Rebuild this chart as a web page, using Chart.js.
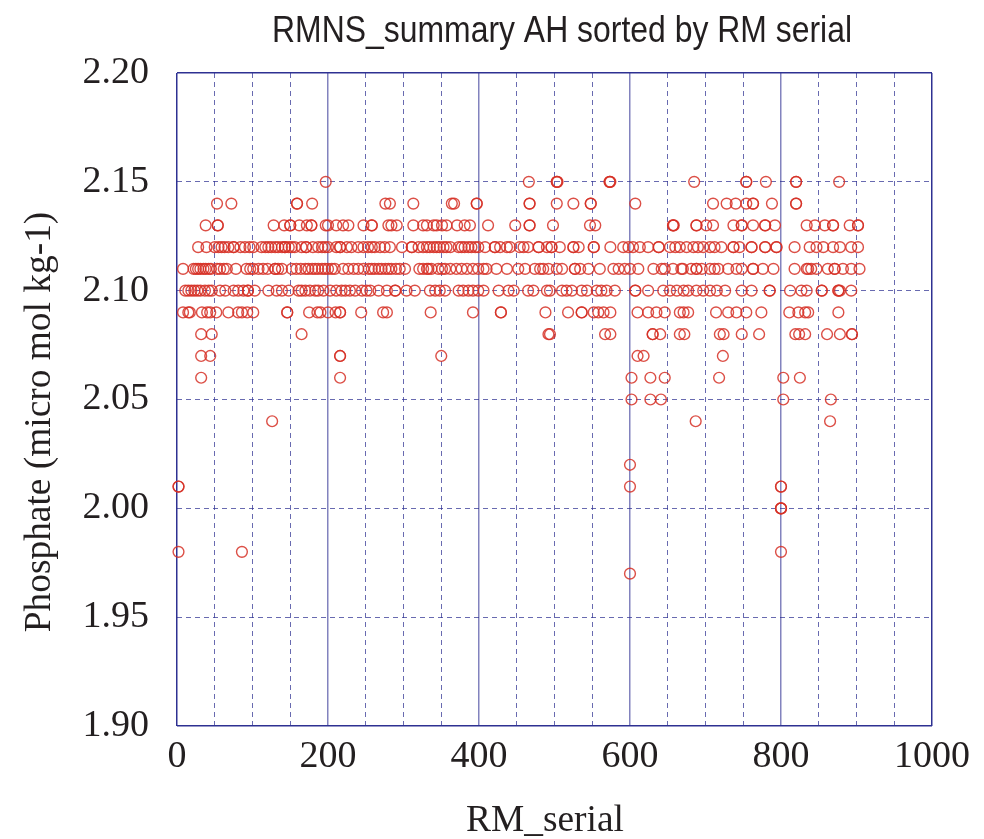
<!DOCTYPE html>
<html lang="en">
<head>
    <meta charset="UTF-8">
    <title>RMNS_summary AH sorted by RM serial</title>
    <script src="https://cdn.jsdelivr.net/npm/chart.js"></script>
    <style>
        body { margin: 0; background: #fff; }
        canvas { display: block; }
    </style>
</head>
<body>
    <canvas id="rm-chart" width="984" height="839"></canvas>

    <script>
        // RM serial numbers, one list per phosphate level
        const levels = [2.15, 2.14, 2.13, 2.12, 2.11, 2.10, 2.09, 2.08, 2.07, 2.06, 2.05, 2.04, 2.02, 2.01, 2.00, 1.98, 1.97];
        const serials215 = [197, 466, 503, 503, 504, 573, 573, 574, 685, 754, 754, 780, 820, 820, 877];
        const serials214 = [53, 72, 159, 159, 179, 276, 282, 313, 364, 367, 397, 397, 467, 467, 503, 525, 548, 548, 607, 710, 728, 740, 754, 763, 763, 788, 820, 820];
        const serials213 = [38, 54, 54, 128, 142, 150, 150, 162, 172, 178, 178, 197, 200, 211, 220, 227, 247, 258, 258, 280, 284, 291, 313, 326, 331, 340, 344, 351, 357, 371, 381, 388, 412, 448, 467, 467, 498, 547, 554, 657, 657, 658, 688, 688, 701, 710, 737, 748, 748, 763, 779, 779, 792, 834, 845, 858, 869, 869, 891, 902, 902];
        const serials212 = [28, 39, 50, 55, 59, 63, 68, 75, 75, 84, 90, 96, 101, 112, 117, 121, 125, 130, 134, 139, 143, 143, 148, 152, 156, 165, 171, 171, 180, 187, 192, 196, 200, 211, 216, 216, 225, 231, 240, 247, 253, 258, 262, 269, 275, 282, 298, 311, 311, 320, 326, 331, 335, 340, 344, 348, 353, 357, 362, 373, 377, 381, 386, 390, 395, 399, 408, 421, 421, 428, 437, 441, 454, 459, 465, 479, 479, 490, 496, 496, 507, 525, 525, 532, 552, 552, 574, 591, 598, 604, 613, 624, 638, 638, 653, 660, 666, 675, 684, 690, 697, 706, 712, 721, 737, 737, 745, 761, 761, 779, 779, 794, 794, 818, 838, 847, 856, 869, 878, 893, 902];
        const serials211 = [8, 22, 25, 28, 31, 35, 38, 42, 45, 53, 57, 62, 66, 78, 92, 97, 101, 108, 114, 120, 130, 130, 134, 139, 152, 158, 164, 170, 174, 179, 183, 187, 192, 196, 200, 205, 209, 220, 227, 234, 240, 247, 254, 258, 262, 267, 271, 276, 280, 284, 290, 295, 302, 321, 326, 331, 333, 337, 346, 351, 355, 362, 370, 377, 384, 392, 399, 406, 410, 423, 437, 452, 461, 474, 481, 485, 492, 503, 510, 527, 527, 534, 545, 560, 578, 585, 593, 600, 611, 631, 642, 646, 657, 668, 670, 681, 688, 688, 695, 706, 712, 717, 730, 741, 748, 763, 763, 776, 790, 818, 834, 836, 840, 847, 862, 871, 871, 882, 893, 904];
        const serials210 = [11, 15, 19, 23, 27, 31, 37, 42, 46, 57, 64, 75, 81, 88, 94, 94, 103, 121, 132, 139, 148, 161, 165, 170, 176, 183, 187, 194, 203, 211, 218, 223, 229, 236, 245, 251, 256, 267, 278, 289, 289, 304, 315, 335, 342, 348, 355, 373, 379, 386, 392, 399, 406, 426, 439, 446, 465, 472, 490, 494, 510, 516, 523, 536, 543, 556, 562, 569, 580, 607, 607, 624, 644, 653, 662, 671, 677, 688, 697, 706, 715, 726, 748, 761, 785, 785, 812, 827, 834, 854, 854, 876, 876, 878, 893];
        const serials209 = [8, 15, 17, 33, 40, 44, 52, 68, 81, 86, 93, 101, 146, 146, 175, 186, 190, 200, 210, 216, 216, 244, 273, 278, 336, 392, 429, 429, 488, 518, 536, 536, 552, 558, 565, 574, 610, 624, 635, 646, 666, 671, 677, 714, 730, 741, 754, 774, 811, 823, 832, 836, 876];
        const serials208 = [32, 46, 165, 492, 494, 567, 574, 630, 630, 640, 666, 672, 719, 724, 748, 771, 819, 824, 832, 861, 878, 894, 894];
        const serials207 = [32, 44, 216, 216, 350, 610, 618, 723];
        const serials206 = [32, 216, 602, 627, 646, 718, 803, 825];
        const serials205 = [602, 627, 641, 803, 866];
        const serials204 = [126, 687, 865];
        const serials202 = [600];
        const serials201 = [2, 2, 600, 800, 800];
        const serials200 = [800, 800, 800];
        const serials198 = [2, 86, 800];
        const serials197 = [600];

        const allSerials = [serials215, serials214, serials213, serials212, serials211, serials210, serials209, serials208, serials207, serials206, serials205, serials204, serials202, serials201, serials200, serials198, serials197];

        const points = [];
        levels.forEach((level, i) => {
            allSerials[i].forEach(serial => points.push({ x: serial, y: level }));
        });

        const frameColor = '#2e3192';
        const gridColor = 'rgba(46, 49, 146, 0.72)';
        const solidColor = 'rgba(46, 49, 146, 0.6)';
        const textColor = '#231f20';

        // Title and axis names sit off-centre in the original, and the title
        // font is condensed, so they are placed here rather than by the axes
        const chartLabels = {
            id: 'chartLabels',
            afterDraw(chart) {
                const ctx = chart.ctx;
                ctx.save();
                ctx.fillStyle = textColor;
                ctx.textAlign = 'center';
                ctx.textBaseline = 'alphabetic';

                ctx.font = '37px "Liberation Sans"';
                ctx.fillText('RMNS_summary AH sorted by RM serial', 562, 42, 580);

                ctx.font = '37.4px "Liberation Serif"';
                ctx.fillText('RM_serial', 545, 831);

                ctx.translate(50, 422);
                ctx.rotate(-Math.PI / 2);
                ctx.fillText('Phosphate (micro mol kg-1)', 0, 0);
                ctx.restore();
            }
        };

        // x axis: solid at the edges and every 200, dashed every 50
        function xIsSolid(value) {
            return value % 200 === 0 || value === 1000;
        }

        // y axis: only the top and bottom lines are solid
        function yIsSolid(value) {
            return Math.abs(value - 1.9) < 0.001 || Math.abs(value - 2.2) < 0.001;
        }

        new Chart(document.getElementById('rm-chart'), {
            type: 'scatter',
            data: {
                datasets: [{
                    data: points,
                    showLine: false,
                    clip: false,
                    pointStyle: 'circle',
                    pointRadius: 5.4,
                    pointBorderWidth: 1.4,
                    pointBorderColor: 'rgba(214, 48, 38, 0.85)',
                    pointBackgroundColor: 'rgba(0, 0, 0, 0)'
                }]
            },
            plugins: [chartLabels],
            options: {
                responsive: false,
                animation: false,
                layout: { padding: { top: 73, right: 52 } },
                plugins: {
                    legend: { display: false },
                    tooltip: { enabled: false }
                },
                scales: {
                    x: {
                        type: 'linear',
                        min: 0,
                        max: 1000,
                        afterFit: scale => { scale.height = 113; },
                        ticks: {
                            stepSize: 50,
                            autoSkip: false,
                            maxRotation: 0,
                            padding: 8,
                            color: textColor,
                            font: { family: '"Liberation Serif"', size: 38 },
                            callback: value => (value % 200 === 0 ? String(value) : '')
                        },
                        grid: {
                            drawTicks: false,
                            lineWidth: ctx => (ctx.tick && xIsSolid(ctx.tick.value) ? 1.5 : 1),
                            color: ctx => {
                                if (ctx.tick && (ctx.tick.value === 0 || ctx.tick.value === 1000)) return frameColor;
                                return ctx.tick && xIsSolid(ctx.tick.value) ? solidColor : gridColor;
                            }
                        },
                        border: {
                            display: false,
                            dash: ctx => (ctx.tick && xIsSolid(ctx.tick.value) ? [] : [5, 4])
                        }
                    },
                    y: {
                        type: 'linear',
                        min: 1.9,
                        max: 2.2,
                        afterFit: scale => { scale.width = 177; },
                        ticks: {
                            stepSize: 0.05,
                            autoSkip: false,
                            padding: 28,
                            color: textColor,
                            font: { family: '"Liberation Serif"', size: 38 },
                            callback: value => value.toFixed(2)
                        },
                        grid: {
                            drawTicks: false,
                            lineWidth: ctx => (ctx.tick && yIsSolid(ctx.tick.value) ? 1.5 : 1),
                            color: ctx => (ctx.tick && yIsSolid(ctx.tick.value) ? frameColor : gridColor)
                        },
                        border: {
                            display: false,
                            dash: ctx => (ctx.tick && yIsSolid(ctx.tick.value) ? [] : [5, 4])
                        }
                    }
                }
            }
        });
    </script>
</body>
</html>
